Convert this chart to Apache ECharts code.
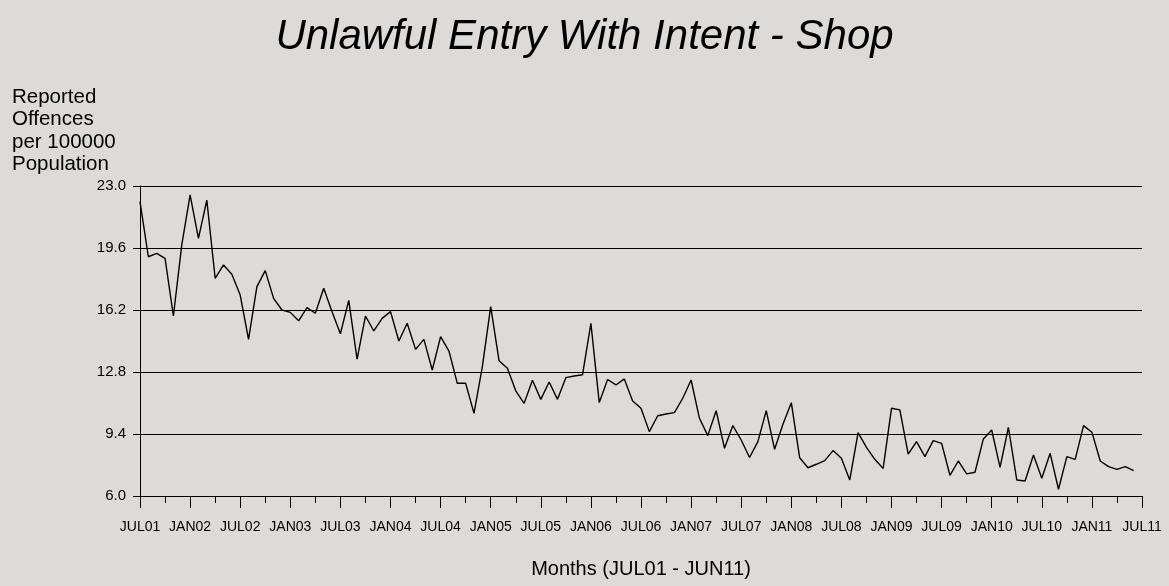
<!DOCTYPE html>
<html>
<head>
<meta charset="utf-8">
<script src="https://cdn.jsdelivr.net/npm/echarts@6/dist/echarts.min.js"></script>
<style>
html,body{margin:0;padding:0;background:#dcdbda;}
#chart{width:1169px;height:586px;}
</style>
</head>
<body>
<div id="chart"></div>
<script>
const titleText = "Unlawful Entry With Intent - Shop";
const yAxisTitle = "Reported\nOffences\nper 100000\nPopulation";
const xAxisTitle = "Months (JUL01 - JUN11)";
const tickLabels = ["JUL01","JAN02","JUL02","JAN03","JUL03","JAN04","JUL04","JAN05","JUL05","JAN06","JUL06","JAN07","JUL07","JAN08","JUL08","JAN09","JUL09","JAN10","JUL10","JAN11","JUL11"];
const yTicks = [6.0, 9.4, 12.8, 16.2, 19.6, 23.0];
const offences = [
22.14,19.12,19.31,19.03,15.87,19.76,22.51,20.13,22.23,17.94,
18.67,18.16,17.02,14.59,17.48,18.36,16.84,16.20,16.07,15.61,
16.33,16.02,17.39,16.11,14.90,16.73,13.50,15.87,15.05,15.74,
16.11,14.50,15.47,14.04,14.59,12.91,14.74,13.95,12.18,12.18,
10.53,13.09,16.38,13.42,13.00,11.77,11.08,12.35,11.30,12.25,
11.30,12.49,12.58,12.65,15.47,11.12,12.39,12.09,12.42,11.21,
10.81,9.53,10.40,10.50,10.57,11.36,12.36,10.26,9.31,10.68,
8.62,9.86,9.07,8.11,8.98,10.68,8.56,9.93,11.12,8.10,
7.55,7.74,7.94,8.49,8.07,6.88,9.48,8.67,8.01,7.51,
10.81,10.72,8.30,8.98,8.16,9.04,8.89,7.13,7.92,7.21,
7.30,9.13,9.62,7.57,9.77,6.88,6.82,8.25,6.97,8.34,
6.37,8.16,8.01,9.86,9.50,7.92,7.61,7.46,7.61,7.39
];
const seriesData = offences.map((v,i)=>[i,v]);
const chart = echarts.init(document.getElementById('chart'));
const font = "'Liberation Sans', Arial, sans-serif";
chart.setOption({
  backgroundColor:'#dcdbda',
  animation:false,
  title:[
    {text:titleText,left:'center',top:11,textStyle:{fontFamily:font,fontStyle:'italic',fontWeight:'normal',fontSize:42,color:'#000'}},
    {text:yAxisTitle,left:7,top:81,textStyle:{fontFamily:font,fontWeight:'normal',fontSize:20.5,lineHeight:22.5,color:'#000'}}
  ],
  grid:{left:140,right:27,top:186,bottom:90},
  xAxis:{
    type:'value',min:0,max:120,interval:6,
    name:xAxisTitle,nameLocation:'middle',nameGap:63,
    nameTextStyle:{fontFamily:font,fontSize:20,color:'#000'},
    axisLine:{lineStyle:{color:'#000',width:1}},
    axisTick:{show:true,length:12,lineStyle:{color:'#000'}},
    minorTick:{show:true,splitNumber:2,length:7,lineStyle:{color:'#000'}},
    splitLine:{show:false},
    axisLabel:{fontFamily:font,fontSize:14,color:'#000',margin:24,formatter:v=>tickLabels[Math.round(v/6)]}
  },
  yAxis:{
    type:'value',min:6.0,max:23.0,interval:3.4,
    axisLine:{show:true,lineStyle:{color:'#000',width:1}},
    axisTick:{show:true,length:7,lineStyle:{color:'#000'}},
    splitLine:{show:true,lineStyle:{color:'#000',width:1}},
    axisLabel:{fontFamily:font,fontSize:15,color:'#000',margin:14,formatter:v=>v.toFixed(1)}
  },
  series:[{type:'line',data:seriesData,symbol:'none',lineStyle:{color:'#000',width:1.4}}]
});
</script>
</body>
</html>
